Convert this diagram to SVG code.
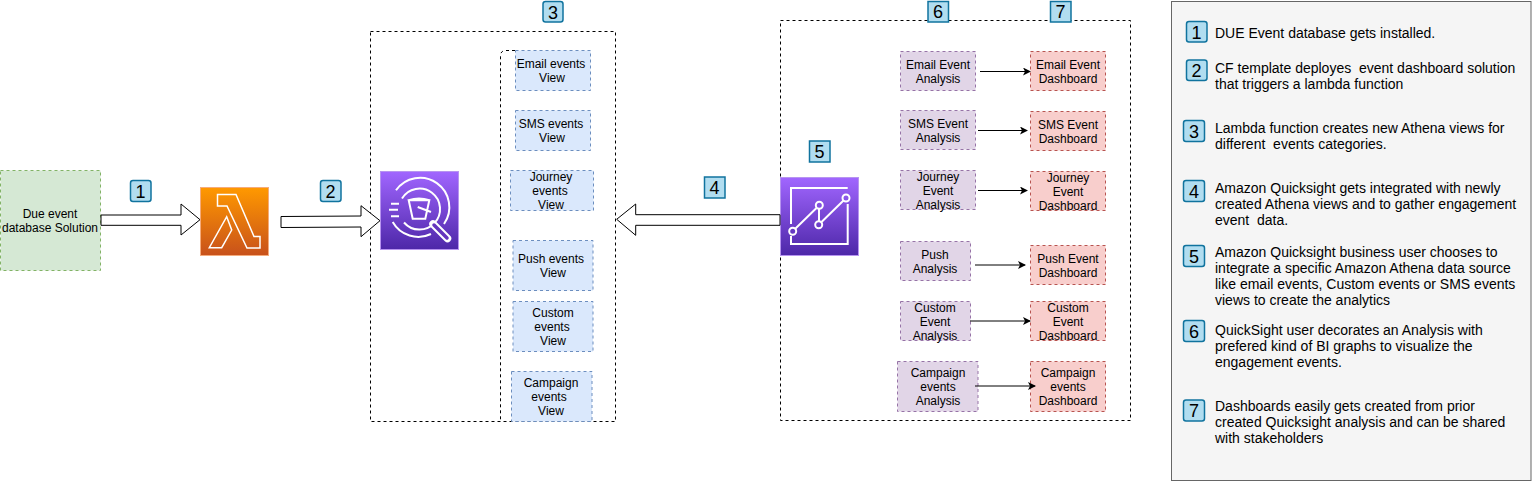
<svg xmlns="http://www.w3.org/2000/svg" width="1532" height="482" viewBox="0 0 1532 482">
<style>
text{font-family:"Liberation Sans",Arial,sans-serif;fill:#000;white-space:pre}
.t{font-size:12px;text-anchor:middle}
.l{font-size:14px}
.n{font-size:18px;text-anchor:middle}
.b{fill:#b1ddf0;stroke:#10739e;stroke-width:1.5}
.s{fill:#b1ddf0;stroke:#10739e;stroke-width:1.5}
.frame{fill:none;stroke:#000;stroke-dasharray:3 3}
.v{fill:#dae8fc;stroke:#6c8ebf;stroke-dasharray:3 3}
.a{fill:#e1d5e7;stroke:#9673a6;stroke-dasharray:3 3}
.d{fill:#f8cecc;stroke:#b85450;stroke-dasharray:3 3}
.big{fill:#fff;stroke:#000;stroke-width:1}
.ln{fill:none;stroke:#000;stroke-width:1}
.ic{fill:none;stroke:#fff;stroke-width:2}
</style>
<defs>
<linearGradient id="org" x1="0" y1="1" x2="0" y2="0"><stop offset="0" stop-color="#c8511b"/><stop offset="1" stop-color="#ff9900"/></linearGradient>
<linearGradient id="pur" x1="0" y1="1" x2="0" y2="0"><stop offset="0" stop-color="#4d27a8"/><stop offset="1" stop-color="#a166ff"/></linearGradient>
<marker id="ah" markerWidth="8" markerHeight="8" refX="7" refY="4" orient="auto" markerUnits="userSpaceOnUse"><path d="M0 0L8 4L0 8L2 4Z" fill="#000"/></marker>
</defs>

<g id="frame-views"><rect class="frame" x="370.5" y="31.5" width="245" height="390"/><path class="frame" d="M515 50.5H506Q500.5 50.5 500.5 56V421"/></g>
<g id="frame-quicksight"><rect class="frame" x="780.5" y="20.5" width="350" height="400"/></g>

<g id="due-db"><rect x="0.5" y="170.5" width="100" height="100" fill="#d5e8d4" stroke="#82b366" stroke-dasharray="3 3"/><text class="t" x="50" y="218">Due event</text><text class="t" x="50" y="232">database Solution</text></g>

<g id="lambda"><rect x="200.5" y="187.5" width="68" height="68" fill="url(#org)" stroke="#f5ab7b"/><path d="M217.500 194.500H236L254 236.500H260V248H247L227 206H217.500ZM226.700 216.700L231.700 230L221.700 247.700H209.300Z" fill="none" stroke="#fff" stroke-width="1.5"/></g>

<g id="athena"><rect x="380.5" y="171.5" width="78" height="78" fill="url(#pur)" stroke="#b794f0"/><path class="ic" d="M396 190.300A29 29 0 1 1 444 224M392.700 222A29.500 29.500 0 0 0 431 234"/><path class="ic" d="M402 198.500A20.500 20.500 0 1 1 404 222.500"/><path class="ic" d="M408.700 200.300H429.300L425.300 218.700H412.700ZM408.700 200.300Q419 196.500 429.300 200.300M417.700 207L431 212"/><path d="M433 224L447.500 238.500" stroke="#fff" stroke-width="7.500" stroke-linecap="round"/><path d="M434 225L447 238" stroke="#6435bd" stroke-width="3.500" stroke-linecap="round"/><path class="ic" d="M391 203.700H399M389 209.700H398M391 216.300H399"/></g>

<g id="quicksight"><rect x="780.5" y="177.500" width="78" height="78" fill="url(#pur)" stroke="#b794f0"/><path class="ic" d="M791 224V188H847.700M847.700 204V244H791V236"/><path class="ic" d="M795.500 228.500L816.500 208M819 209V221M821.500 222L843.500 200.500"/><circle class="ic" cx="792.700" cy="231.300" r="3.500"/><circle class="ic" cx="819.300" cy="205.300" r="3.500"/><circle class="ic" cx="818.700" cy="224.700" r="3.500"/><circle class="ic" cx="846" cy="198" r="3.500"/></g>

<g id="view-email"><rect class="v" x="515.5" y="50.5" width="75" height="40"/><text class="t" x="551" y="68">Email events</text><text class="t" x="552" y="82">View</text></g>
<g id="view-sms"><rect class="v" x="515.5" y="110.5" width="75" height="40"/><text class="t" x="551" y="128">SMS events</text><text class="t" x="552" y="142">View</text></g>
<g id="view-journey"><rect class="v" x="510.5" y="170.5" width="83" height="40"/><text class="t" x="551" y="181">Journey</text><text class="t" x="550" y="195">events</text><text class="t" x="551" y="209">View</text></g>
<g id="view-push"><rect class="v" x="513" y="240.5" width="80" height="50"/><text class="t" x="551" y="263">Push events</text><text class="t" x="553" y="277">View</text></g>
<g id="view-custom"><rect class="v" x="513" y="301.5" width="80" height="50"/><text class="t" x="553" y="317">Custom</text><text class="t" x="552" y="331">events</text><text class="t" x="553" y="345">View</text></g>
<g id="view-campaign"><rect class="v" x="511.5" y="371.5" width="80.5" height="50"/><text class="t" x="551" y="387">Campaign</text><text class="t" x="549" y="401">events</text><text class="t" x="551" y="415">View</text></g>

<g id="an-email"><rect class="a" x="900.5" y="51.5" width="75" height="39"/><text class="t" x="938" y="69">Email Event</text><text class="t" x="938" y="83">Analysis</text></g>
<g id="an-sms"><rect class="a" x="900.5" y="110.5" width="75" height="39"/><text class="t" x="938" y="128">SMS Event</text><text class="t" x="938" y="142">Analysis</text></g>
<g id="an-journey"><rect class="a" x="900.5" y="170.5" width="75" height="39"/><text class="t" x="938" y="181">Journey</text><text class="t" x="938" y="195">Event</text><text class="t" x="938" y="209">Analysis</text></g>
<g id="an-push"><rect class="a" x="900.5" y="241.5" width="70" height="39"/><text class="t" x="935" y="259">Push</text><text class="t" x="935" y="273">Analysis</text></g>
<g id="an-custom"><rect class="a" x="900.5" y="301.5" width="70" height="39"/><text class="t" x="935" y="312">Custom</text><text class="t" x="935" y="326">Event</text><text class="t" x="935" y="340">Analysis</text></g>
<g id="an-campaign"><rect class="a" x="897.5" y="361.5" width="80.5" height="50"/><text class="t" x="938" y="377">Campaign</text><text class="t" x="938" y="391">events</text><text class="t" x="938" y="405">Analysis</text></g>

<g id="db-email"><rect class="d" x="1030.5" y="51.5" width="75" height="39"/><text class="t" x="1068" y="69">Email Event</text><text class="t" x="1068" y="83">Dashboard</text></g>
<g id="db-sms"><rect class="d" x="1030.5" y="111.5" width="75" height="39"/><text class="t" x="1068" y="129">SMS Event</text><text class="t" x="1068" y="143">Dashboard</text></g>
<g id="db-journey"><rect class="d" x="1030.5" y="171.5" width="75" height="39"/><text class="t" x="1068" y="182">Journey</text><text class="t" x="1068" y="196">Event</text><text class="t" x="1068" y="210">Dashboard</text></g>
<g id="db-push"><rect class="d" x="1030.5" y="245.5" width="75" height="39"/><text class="t" x="1068" y="263">Push Event</text><text class="t" x="1068" y="277">Dashboard</text></g>
<g id="db-custom"><rect class="d" x="1030.5" y="301.5" width="75" height="39"/><text class="t" x="1068" y="312">Custom</text><text class="t" x="1068" y="326">Event</text><text class="t" x="1068" y="340">Dashboard</text></g>
<g id="db-campaign"><rect class="d" x="1030.5" y="361.5" width="75" height="50"/><text class="t" x="1068" y="377">Campaign</text><text class="t" x="1068" y="391">events</text><text class="t" x="1068" y="405">Dashboard</text></g>

<g id="connectors">
<path class="big" d="M101 215H181V204L200 219.700L181 235V225.300H101Z"/>
<path class="big" d="M281 216.500L361 216V205.700L380 220.700L361 236.700V227L281 227.500Z"/>
<path class="big" d="M780 214.700H635.700V204L616.700 219.300L635.700 235.300V225.300H780Z"/>
<path class="ln" marker-end="url(#ah)" d="M980 71.500H1030"/>
<path class="ln" marker-end="url(#ah)" d="M978 130.500H1027"/>
<path class="ln" marker-end="url(#ah)" d="M978 190.500H1027"/>
<path class="ln" marker-end="url(#ah)" d="M975 265H1025"/>
<path class="ln" marker-end="url(#ah)" d="M970 321H1030"/>
<path class="ln" marker-end="url(#ah)" d="M975 386H1035"/>
</g>

<g id="badge-1"><rect class="b" x="130.500" y="180.500" width="20.500" height="21" rx="2.500"/><text class="n" x="140.500" y="197.500">1</text></g>
<g id="badge-2"><rect class="b" x="320.500" y="180.500" width="20.500" height="21" rx="2.500"/><text class="n" x="330.500" y="197.500">2</text></g>
<g id="badge-3"><rect class="b" x="543" y="1.500" width="20" height="20.500" rx="2.500"/><text class="n" x="553" y="18.500">3</text></g>
<g id="badge-4"><rect class="s" x="704.500" y="177" width="20.500" height="21"/><text class="n" x="714.500" y="194">4</text></g>
<g id="badge-5"><rect class="s" x="809.500" y="141" width="20.500" height="21"/><text class="n" x="819.500" y="158">5</text></g>
<g id="badge-6"><rect class="s" x="928" y="1.500" width="20.500" height="20.500"/><text class="n" x="938" y="18">6</text></g>
<g id="badge-7"><rect class="s" x="1050.500" y="1.500" width="20.500" height="20.500"/><text class="n" x="1060.500" y="18">7</text></g>

<g id="legend">
<rect x="1171.500" y="1.500" width="359.500" height="479" fill="#f5f5f5" stroke="#666"/>
<rect class="b" x="1186.500" y="21.500" width="20.500" height="20.500" rx="2.500"/><text class="n" x="1196.500" y="38.500">1</text>
<rect class="b" x="1186.500" y="60" width="20.500" height="20.500" rx="2.500"/><text class="n" x="1196.500" y="77">2</text>
<rect class="b" x="1183.500" y="120.500" width="21" height="21" rx="2.500"/><text class="n" x="1194" y="137.500">3</text>
<rect class="b" x="1183.500" y="180.500" width="21" height="21" rx="2.500"/><text class="n" x="1194" y="197.500">4</text>
<rect class="b" x="1183.500" y="245.500" width="21" height="21" rx="2.500"/><text class="n" x="1194" y="262.500">5</text>
<rect class="b" x="1183.500" y="320.500" width="21" height="21" rx="2.500"/><text class="n" x="1194" y="337.500">6</text>
<rect class="b" x="1183.500" y="400" width="21" height="21" rx="2.500"/><text class="n" x="1194" y="417">7</text>
<text class="l" x="1215" y="38">DUE Event database gets installed.</text>
<text class="l" x="1215" y="73">CF template deployes  event dashboard solution</text>
<text class="l" x="1215" y="89">that triggers a lambda function</text>
<text class="l" x="1215" y="133">Lambda function creates new Athena views for</text>
<text class="l" x="1215" y="149">different  events categories.</text>
<text class="l" x="1215" y="193">Amazon Quicksight gets integrated with newly</text>
<text class="l" x="1215" y="209">created Athena views and to gather engagement</text>
<text class="l" x="1215" y="225">event  data.</text>
<text class="l" x="1215" y="257">Amazon Quicksight business user chooses to</text>
<text class="l" x="1215" y="273">integrate a specific Amazon Athena data source</text>
<text class="l" x="1215" y="289">like email events, Custom events or SMS events</text>
<text class="l" x="1215" y="305">views to create the analytics</text>
<text class="l" x="1215" y="335">QuickSight user decorates an Analysis with</text>
<text class="l" x="1215" y="351">prefered kind of BI graphs to visualize the</text>
<text class="l" x="1215" y="367">engagement events.</text>
<text class="l" x="1215" y="411">Dashboards easily gets created from prior</text>
<text class="l" x="1215" y="427">created Quicksight analysis and can be shared</text>
<text class="l" x="1215" y="443">with stakeholders</text>
</g>
</svg>
